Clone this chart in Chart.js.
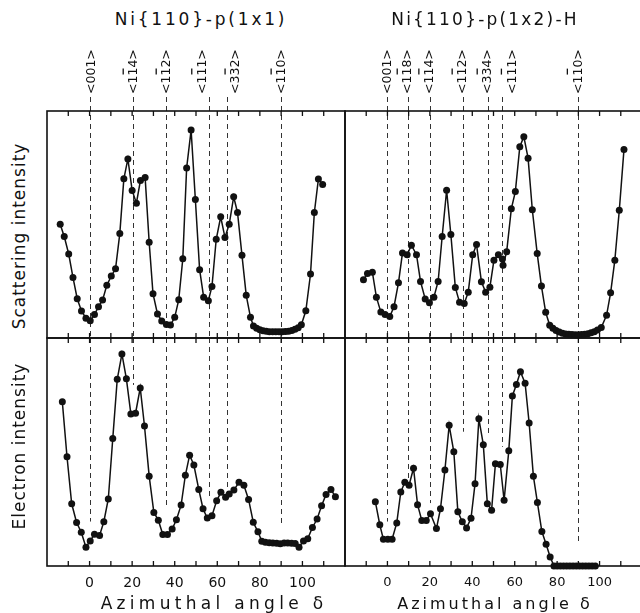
<!DOCTYPE html>
<html>
<head>
<meta charset="utf-8">
<script src="https://cdn.jsdelivr.net/npm/chart.js@4.4.0/dist/chart.umd.min.js"></script>
<style>
  body { margin: 0; background: #fff; overflow: hidden; }
  #fig { position: relative; width: 640px; height: 613px; overflow: hidden; font-family: "DejaVu Sans", sans-serif; color: #111; }
  #fig canvas { position: absolute; }
  .txt { position: absolute; white-space: nowrap; transform: translate(-50%, -50%); }
  .vert { transform: translate(-50%, -50%) rotate(-90deg); }
</style>
</head>
<body>
<div id="fig">
  <canvas id="scat11" width="306" height="302" style="left:43px;top:40px;width:306px;height:302px"></canvas>
  <canvas id="scat12" width="305" height="302" style="left:341px;top:40px;width:305px;height:302px"></canvas>
  <canvas id="elec11" width="306" height="262" style="left:43px;top:334px;width:306px;height:262px"></canvas>
  <canvas id="elec12" width="305" height="262" style="left:341px;top:334px;width:305px;height:262px"></canvas>

  <div class="txt" style="left:201px;top:19px;font-size:17px;letter-spacing:2.8px">Ni{110}-p(1x1)</div>
  <div class="txt" style="left:485px;top:19px;font-size:17px;letter-spacing:2.2px">Ni{110}-p(1x2)-H</div>
  <div class="txt vert" style="left:19px;top:236px;font-size:17px;letter-spacing:1px">Scattering intensity</div>
  <div class="txt vert" style="left:19px;top:446px;font-size:17px;letter-spacing:1px">Electron intensity</div>
  <div class="txt" style="left:214px;top:603px;font-size:17px;letter-spacing:4.3px">Azimuthal angle δ</div>
  <div class="txt" style="left:495px;top:603px;font-size:16px;letter-spacing:3px">Azimuthal angle δ</div>
</div>
<script>
// ===== DATA =====
const xMin = -20, xMax = 120;
const axisTicks = [0, 20, 40, 60, 80, 100];

// Ni{110}-p(1x1), scattering intensity
const angleScat11 = [-13.8, -11.9, -9.8, -7.8, -5.8, -3.8, -1.7, 0.3, 2.3, 4.2, 6.1, 8.1, 10.2, 12.2, 14.2, 16.1, 18, 20, 22, 23.9, 26.1, 28, 29.8, 31.9, 33.9, 36.1, 38, 40, 41.9, 43.8, 45.6, 47.7, 49.7, 51.7, 53.6, 55.8, 57.5, 59.5, 61.6, 63.6, 65.6, 67.7, 69.5, 71.6, 73.6, 75.6, 77, 78.5, 80, 81.5, 83, 84.5, 86, 87.5, 89, 90.5, 92, 93.5, 95, 96.5, 98, 99.5, 101.6, 103.8, 105.6, 107.5, 109.5];
const scat11 = [50.1, 44.7, 37, 26.7, 17.3, 11.9, 8.7, 7.6, 10.3, 13.8, 16.7, 23.2, 27.3, 30.5, 46, 70.1, 78.9, 65, 59.4, 69.4, 70.7, 42.2, 19.5, 10.6, 7.5, 6, 5.7, 9.1, 16.9, 34.9, 74.9, 91.6, 61, 30.1, 18, 16.4, 22.7, 43.5, 53.4, 44.3, 50.1, 62.2, 55.3, 36.4, 18.8, 9.1, 5.3, 4.3, 3.6, 3.2, 3.0, 2.8, 2.7, 2.7, 2.8, 2.8, 2.9, 3.0, 3.3, 3.8, 4.5, 5.8, 12, 28.2, 55.3, 70, 67.6];

// Ni{110}-p(1x2)-H, scattering intensity
const angleScat12 = [-11.3, -9.4, -7.1, -5.2, -3.1, -1.1, 1.1, 3.1, 5.2, 7.1, 9.3, 11.3, 13.7, 15.6, 17.8, 19.8, 21.9, 23.9, 25.8, 27.9, 29.9, 32, 34, 36.2, 38.1, 40.2, 42, 44.3, 46.3, 48.3, 50.2, 52.3, 54.2, 54.5, 56.2, 58.4, 60.3, 62.4, 64.3, 66.3, 68.3, 70.6, 72.6, 74.6, 76.5, 78, 79.5, 81, 82.5, 84, 85.5, 87, 88.5, 90, 91.5, 93, 94.5, 96, 97.5, 99, 100.8, 103.3, 105.2, 107.2, 109.3, 111.5];
const scat12 = [25.7, 28.4, 29, 18, 11.4, 10.3, 9.5, 13.8, 24.3, 37.5, 36.7, 40.9, 36.7, 24.9, 17.2, 15.5, 18, 24.9, 44.7, 65.1, 45.6, 22.3, 15.7, 15.2, 20.2, 36.7, 41.2, 24.8, 20.2, 22.4, 34.2, 36.7, 34.8, 32, 38, 56.9, 64.5, 84.3, 88.7, 79.2, 56.5, 37.2, 22.9, 11.3, 5.6, 4.3, 3.3, 2.6, 2.1, 1.8, 1.6, 1.5, 1.4, 1.4, 1.5, 1.6, 1.9, 2.3, 2.8, 3.5, 4.6, 10, 19.9, 34.3, 56.3, 83];

// Ni{110}-p(1x1), electron intensity
const angleElec11 = [-12.8, -10.6, -8.4, -6.1, -3.9, -1.7, 0.3, 2.3, 4.7, 6.7, 8.8, 10.9, 13, 15.2, 17.3, 19.4, 21.6, 23.8, 25.8, 28, 30.2, 32.3, 34.4, 36.6, 38.8, 40.8, 43, 45, 47, 49, 51.3, 53.3, 55.3, 57.5, 59.7, 61.7, 63.9, 65.6, 67.8, 70.2, 72.5, 74.7, 76.9, 79.1, 80.9, 82.6, 84.4, 86.1, 87.9, 89.6, 91.4, 93.1, 94.9, 96.6, 98.4, 100.5, 102.5, 104.7, 106.9, 109, 111.1, 113.4, 115.5];
const elec11 = [72, 47.9, 27.3, 19.1, 14.8, 8.2, 11, 13.9, 13.4, 19.4, 29.4, 55.9, 81.9, 93, 82.1, 66.7, 67, 78.1, 61.4, 39.4, 23.5, 20.1, 13.8, 13.8, 16.2, 20.3, 26.7, 39.8, 48.6, 44.3, 33.6, 25.1, 21, 22, 28.6, 32.3, 30.1, 31.6, 33.3, 36.7, 35.4, 29.2, 19.2, 15, 10.9, 10.4, 10.2, 10.1, 10.0, 9.8, 10.1, 10.1, 10.0, 9.9, 8.2, 11, 12, 16.9, 20.6, 26.4, 31.4, 33.5, 30.4];

// Ni{110}-p(1x2)-H, electron intensity
const angleElec12 = [-5.7, -3.6, -1.9, 0.2, 2.2, 4.4, 6.3, 8.2, 10.2, 12.3, 14.2, 16.2, 18.3, 20.3, 23.1, 25, 27.1, 29.1, 31.3, 33.2, 35.3, 37.3, 39.4, 41.3, 43.1, 45.2, 47.1, 49.1, 50.9, 53.2, 55, 57.2, 58.9, 60.8, 62.7, 64.9, 66.8, 68.8, 70.7, 72.8, 74.8, 76.7, 78.5, 80, 81.5, 83, 84.5, 86, 87.5, 89, 90.5, 92, 93.5, 95, 96.5, 98];
const elec12 = [28.2, 18.1, 11.7, 11.7, 11.7, 18.9, 32.5, 36.7, 35.4, 42.9, 26.9, 20, 20, 22.9, 16.4, 25.1, 42.1, 61.7, 50.1, 23.8, 19.4, 16.7, 20.9, 36.1, 64.6, 53.2, 27.3, 24.5, 44.8, 44.5, 28.8, 50.5, 74.6, 79.6, 85.2, 80.2, 62.7, 39.4, 27.8, 15.1, 9.5, 4, 0, 0, 0, 0, 0, 0, 0, 0, 0, 0, 0, 0, 0, 0];

// crystal directions (azimuth), label, index of the barred digit, where the dashed line stops in the lower panel
const dirAngles11 = [0, 20.5, 36, 56, 64.6, 90];
const dirNames11 = ["<001>", "<114>", "<112>", "<111>", "<332>", "<110>"];
const dirBars11 = [-1, 2, 2, 2, 2, 2];
const dirEnds11 = [19.5, 79.4, 26, 29.8, 31, 17.3];

const dirAngles12 = [0, 9.8, 20, 35.7, 47.5, 54.2, 90];
const dirNames12 = ["<001>", "<118>", "<114>", "<112>", "<334>", "<111>", "<110>"];
const dirBars12 = [-1, 2, 2, 2, 2, 2, 2];
const dirEnds12 = [19.5, 36.3, 27.6, 58.9, 56.7, 52.3, 10];

// ===== DRAWING =====
Chart.defaults.font.family = '"DejaVu Sans", sans-serif';
Chart.defaults.color = "#111";

const panelDecor = {
  id: "panelDecor",
  beforeDatasetsDraw(chart, args, o) {
    const { ctx, chartArea: a, scales: { x, y } } = chart;
    ctx.save();
    ctx.strokeStyle = "#333";
    ctx.lineWidth = 1;
    ctx.setLineDash([5, 4]);
    o.angles.forEach((ang, i) => {
      const px = Math.round(x.getPixelForValue(ang)) + 0.5;
      const top = o.names ? a.top - 14 : a.top;
      const bottom = o.ends ? y.getPixelForValue(o.ends[i]) : a.bottom;
      ctx.beginPath();
      ctx.moveTo(px, top);
      ctx.lineTo(px, bottom);
      ctx.stroke();
    });
    ctx.restore();
  },
  afterDatasetsDraw(chart, args, o) {
    const { ctx, chartArea: a, scales: { x } } = chart;
    ctx.save();
    ctx.strokeStyle = "#111";
    ctx.lineWidth = 1.6;
    ctx.strokeRect(a.left, a.top, a.right - a.left, a.bottom - a.top);
    // inward ticks every 10 deg
    ctx.lineWidth = 1.3;
    for (let v = xMin + 10; v < xMax; v += 10) {
      const px = x.getPixelForValue(v);
      ctx.beginPath();
      ctx.moveTo(px, a.top);
      ctx.lineTo(px, a.top + 5);
      ctx.moveTo(px, a.bottom);
      ctx.lineTo(px, a.bottom - 5);
      ctx.stroke();
    }
    // direction labels above the upper panels
    if (o.names) {
      ctx.fillStyle = "#111";
      ctx.font = '12.5px "DejaVu Sans", sans-serif';
      ctx.textAlign = "left";
      ctx.textBaseline = "middle";
      ctx.lineWidth = 1.3;
      o.names.forEach((name, i) => {
        const px = x.getPixelForValue(o.angles[i]) + (o.shifts[i] || 0);
        ctx.save();
        ctx.translate(px, a.top - 17);
        ctx.rotate(-Math.PI / 2);
        ctx.fillText(name, 0, 0);
        const b = o.bars[i];
        if (b >= 0) {
          const w0 = ctx.measureText(name.slice(0, b)).width;
          const wc = ctx.measureText(name[b]).width;
          ctx.beginPath();
          ctx.moveTo(w0 + 1, -11);
          ctx.lineTo(w0 + wc - 1, -11);
          ctx.stroke();
        }
        ctx.restore();
      });
    }
    ctx.restore();
  },
};

function makePanel(id, xs, ys, deco, withAxis, tickSize) {
  const top = withAxis ? 4 : 71;
  const xScale = {
    type: "linear",
    min: xMin,
    max: xMax,
    display: withAxis,
    grid: { display: false, drawTicks: false },
    border: { display: false },
    afterBuildTicks: (s) => { s.ticks = axisTicks.map((v) => ({ value: v })); },
    ticks: { font: { size: tickSize || 12 }, color: "#111", padding: 9, maxRotation: 0, autoSkip: false },
  };
  if (withAxis) xScale.afterFit = (s) => { s.height = 30; };

  new Chart(document.getElementById(id), {
    type: "line",
    data: {
      datasets: [{
        data: xs.map((v, i) => ({ x: v, y: ys[i] })),
        borderColor: "#111",
        borderWidth: 1.5,
        pointRadius: 3.5,
        pointBackgroundColor: "#111",
        pointBorderWidth: 0,
        pointHoverRadius: 3.5,
        tension: 0,
        clip: false,
      }],
    },
    options: {
      responsive: false,
      animation: false,
      events: [],
      layout: { padding: { left: 4, right: 4, top: top, bottom: withAxis ? 0 : 4 } },
      plugins: { legend: { display: false }, tooltip: { enabled: false }, panelDecor: deco },
      scales: {
        x: xScale,
        y: { type: "linear", min: 0, max: 100, display: false },
      },
    },
    plugins: [panelDecor],
  });
}

makePanel("scat11", angleScat11, scat11,
  { angles: dirAngles11, names: dirNames11, bars: dirBars11, shifts: [2, 1, 1, -6, 9, 1] }, false);
makePanel("scat12", angleScat12, scat12,
  { angles: dirAngles12, names: dirNames12, bars: dirBars12, shifts: [0, 0, 0, 0, 0, 10, 0] }, false);
makePanel("elec11", angleElec11, elec11, { angles: dirAngles11, ends: dirEnds11 }, true, 14);
makePanel("elec12", angleElec12, elec12, { angles: dirAngles12, ends: dirEnds12 }, true, 13);
</script>
</body>
</html>
